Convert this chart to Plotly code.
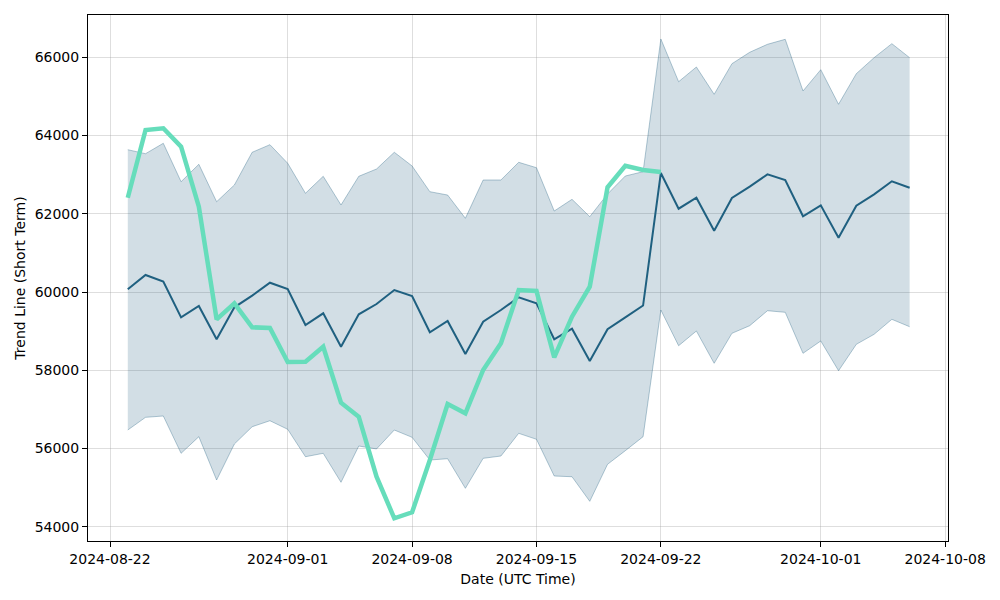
import pandas as pd
import plotly.graph_objs as go

dates = pd.date_range("2024-08-23", "2024-10-06", freq="D")

trend_mean = [60070, 60436, 60270, 59354, 59643, 58792, 59610, 59907, 60239, 60078,
              59158, 59457, 58603, 59431, 59694, 60052, 59899, 58971, 59260, 58416,
              59242, 59541, 59866, 59712, 58792, 59063, 58237, 59048, 59354, 59656,
              63043, 62130, 62411, 61568, 62404, 62693, 63009, 62864, 61936, 62217,
              61389, 62207, 62498, 62831, 62667]

band_upper = [63638, 63536, 63802, 62820, 63265, 62309, 62736, 63572, 63766, 63291,
              62524, 62958, 62225, 62958, 63145, 63572, 63222, 62565, 62480, 61885,
              62864, 62864, 63316, 63178, 62071, 62370, 61926, 62506, 62966, 63076,
              66468, 65376, 65752, 65054, 65836, 66128, 66332, 66460, 65139, 65683,
              64799, 65581, 65990, 66348, 65990]

band_lower = [56474, 56798, 56832, 55878, 56303, 55196, 56116, 56558, 56711, 56492,
              55791, 55878, 55137, 56065, 55990, 56474, 56287, 55707, 55740, 54984,
              55750, 55809, 56389, 56236, 55298, 55280, 54651, 55597, 55945, 56303,
              59541, 58628, 59004, 58179, 58945, 59140, 59523, 59482, 58434, 58749,
              57989, 58664, 58920, 59303, 59114]

# price only runs to 2024-09-22
price = [62411, 64142, 64185, 63715, 62181, 59303, 59712, 59099, 59080, 58212,
         58220, 58603, 57172, 56814, 55280, 54217, 54370, 55707, 57138, 56901,
         58007, 58690, 60052, 60027, 58332, 59370, 60137, 62677, 63229, 63119,
         63068]

x_ticks = ["2024-08-22", "2024-09-01", "2024-09-08", "2024-09-15",
           "2024-09-22", "2024-10-01", "2024-10-08"]

band_fill = 'rgba(28,91,125,0.2)'
band_edge = 'rgba(28,91,125,0.33)'

fig = go.Figure()
fig.add_trace(go.Scatter(x=dates, y=band_lower, mode='lines',
                         line=dict(color=band_edge, width=1), showlegend=False))
fig.add_trace(go.Scatter(x=dates, y=band_upper, mode='lines', fill='tonexty',
                         fillcolor=band_fill, line=dict(color=band_edge, width=1),
                         showlegend=False))
fig.add_trace(go.Scatter(x=dates, y=trend_mean, mode='lines',
                         line=dict(color='#1f6080', width=2), showlegend=False))
fig.add_trace(go.Scatter(x=dates[:len(price)], y=price, mode='lines',
                         line=dict(color='#66ddbb', width=4.5), showlegend=False))

axis_style = dict(showline=True, linecolor='black', linewidth=1, mirror=True,
                  ticks='outside', ticklen=5, tickcolor='black', automargin=False,
                  showgrid=True, gridcolor='rgba(160,160,160,0.35)', gridwidth=1,
                  zeroline=False, tickfont=dict(size=14, color='black'))

fig.update_xaxes(**axis_style, type='date',
                 range=["2024-08-20 18:17", "2024-10-08 03:50"],
                 tickvals=x_ticks, ticktext=x_ticks,
                 title=dict(text='Date (UTC Time)', font=dict(size=14, color='black'),
                            standoff=8))
fig.update_yaxes(**axis_style, range=[53637, 67081],
                 tickvals=[54000, 56000, 58000, 60000, 62000, 64000, 66000],
                 tickformat='d',
                 title=dict(text='Trend Line (Short Term)', font=dict(size=14, color='black'),
                            standoff=5))

# page body adds ~8px offset, so margins are shifted to land the axes box right
fig.update_layout(width=1000, height=600, plot_bgcolor='white', paper_bgcolor='white',
                  margin=dict(l=80, r=60, t=7, b=67),
                  font=dict(family='DejaVu Sans', size=14, color='black'))

fig.write_html("out.html")
